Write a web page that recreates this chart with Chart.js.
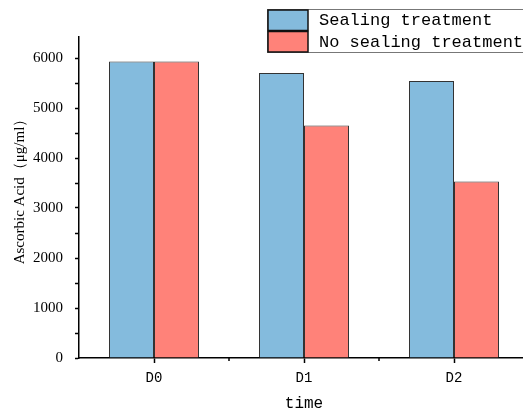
<!DOCTYPE html>
<html>
<head>
<meta charset="utf-8">
<script src="https://cdn.jsdelivr.net/npm/chart.js@4"></script>
<style>
  html, body { margin: 0; padding: 0; background: #fff; }
  #wrap { width: 523px; height: 409px; overflow: hidden; position: relative; }
</style>
</head>
<body>
<div id="wrap"><canvas id="chart" width="540" height="420"></canvas></div>
<script>
// Data
const categories = ["D0", "D1", "D2"];
const sealingValues = [5930, 5700, 5540];
const noSealingValues = [5930, 4650, 3530];
const seriesLabels = ["Sealing treatment", "No sealing treatment"];
const seriesColors = ["#84BBDD", "#FF8279"];
const yTitle = "Ascorbic Acid（μg/ml）";
// major ticks carry labels, minor ones in between do not
const yTickValues = [0, 500, 1000, 1500, 2000, 2500, 3000, 3500, 4000, 4500, 5000, 5500, 6000];

// small ticks between categories on the x axis
const minorTicks = {
  id: "minorTicks",
  afterDraw(chart) {
    const ctx = chart.ctx;
    const x = chart.scales.x;
    ctx.save();
    ctx.strokeStyle = "#000";
    ctx.lineWidth = 1.5;
    for (let i = 0; i < categories.length - 1; i++) {
      const px = (x.getPixelForValue(i) + x.getPixelForValue(i + 1)) / 2;
      ctx.beginPath();
      ctx.moveTo(px, x.top);
      ctx.lineTo(px, x.top + 3);
      ctx.stroke();
    }
    ctx.restore();
  },
};

// y title, centred a little above the middle like the original
const yTitlePlugin = {
  id: "yTitle",
  afterDraw(chart) {
    const ctx = chart.ctx;
    ctx.save();
    ctx.translate(20, 188);
    ctx.rotate(-Math.PI / 2);
    ctx.fillStyle = "#000";
    ctx.font = "15px 'Liberation Serif'";
    ctx.textAlign = "center";
    ctx.textBaseline = "middle";
    ctx.fillText(yTitle, 0, 0);
    ctx.restore();
  },
};

// boxed legend in the top-right corner
const boxLegend = {
  id: "boxLegend",
  afterDraw(chart) {
    const ctx = chart.ctx;
    const left = 267, top = 9, rowH = 21.5;
    ctx.save();
    ctx.fillStyle = "#fff";
    ctx.fillRect(left, top, 300, rowH * 2);
    ctx.strokeStyle = "#777";
    ctx.lineWidth = 1;
    ctx.strokeRect(left + 0.5, top + 0.5, 300, rowH * 2);
    chart.data.datasets.forEach((ds, i) => {
      const y = top + 1 + i * rowH;
      ctx.fillStyle = ds.backgroundColor;
      ctx.fillRect(left + 1, y, 40, rowH - 1);
      ctx.strokeStyle = "#111";
      ctx.lineWidth = 1.5;
      ctx.strokeRect(left + 1, y, 40, rowH - 1);
      ctx.fillStyle = "#000";
      ctx.font = "17px 'Liberation Mono'";
      ctx.textBaseline = "middle";
      ctx.fillText(ds.label, 319, y + rowH / 2);
    });
    ctx.restore();
  },
};

new Chart(document.getElementById("chart"), {
  type: "bar",
  data: {
    labels: categories,
    datasets: [
      {
        label: seriesLabels[0],
        data: sealingValues,
        backgroundColor: seriesColors[0],
        borderColor: "#333",
        borderWidth: 1,
      },
      {
        label: seriesLabels[1],
        data: noSealingValues,
        backgroundColor: seriesColors[1],
        borderColor: "#333",
        borderWidth: 1,
      },
    ],
  },
  options: {
    responsive: false,
    animation: false,
    layout: { padding: { top: 37, right: 11, left: 0, bottom: 0 } },
    datasets: { bar: { categoryPercentage: 0.6, barPercentage: 1.0 } },
    plugins: { legend: { display: false }, tooltip: { enabled: false } },
    scales: {
      x: {
        afterFit: (s) => { s.height = 62; },
        grid: { drawOnChartArea: false, drawTicks: true, tickLength: 5, tickColor: "#000", tickWidth: 1.5, offset: false },
        border: { color: "#000", width: 1.5 },
        ticks: { color: "#000", padding: 7, font: { family: "Liberation Mono", size: 14 } },
        title: {
          display: true,
          text: "time",
          color: "#000",
          padding: { top: 0, bottom: 7 },
          font: { family: "Liberation Mono", size: 16 },
        },
      },
      y: {
        min: 0,
        max: 6420,
        afterFit: (s) => { s.width = 79; },
        afterBuildTicks: (s) => { s.ticks = yTickValues.map((v) => ({ value: v })); },
        grid: { drawOnChartArea: false, drawTicks: true, tickLength: 4, tickColor: "#000", tickWidth: 1.5 },
        border: { color: "#000", width: 1.5 },
        ticks: {
          autoSkip: false,
          color: "#000",
          padding: 12,
          font: { family: "Liberation Serif", size: 15 },
          callback: (v) => (v % 1000 === 0 ? String(v) : ""),
        },
      },
    },
  },
  plugins: [minorTicks, boxLegend, yTitlePlugin],
});
</script>
</body>
</html>
